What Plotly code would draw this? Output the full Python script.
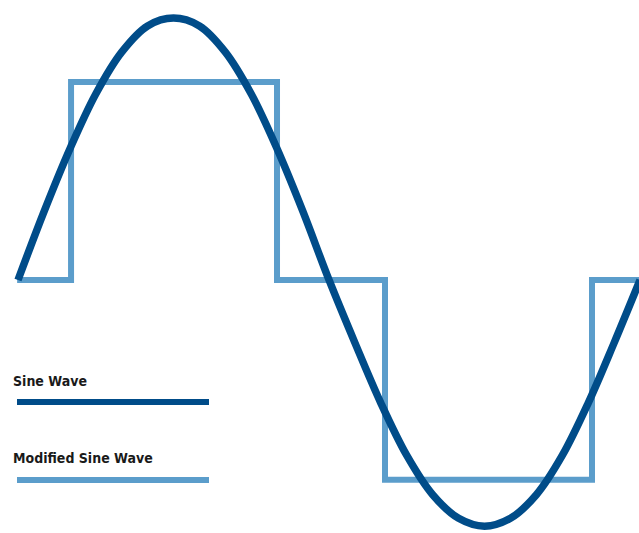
import plotly.graph_objs as go

# Sine wave, read every 15 degrees (trough sits a little shallower than the peak)
sine_x = [0, 15, 30, 45, 60, 75, 90, 105, 120, 135, 150, 165, 180,
          195, 210, 225, 240, 255, 270, 285, 300, 315, 330, 345, 360]
sine_y = [0, 0.26, 0.5, 0.71, 0.87, 0.97, 1, 0.97, 0.87, 0.71, 0.5, 0.26, 0,
          -0.24, -0.47, -0.67, -0.82, -0.91, -0.94, -0.91, -0.82, -0.67, -0.47, -0.24, 0]

# Modified sine wave (stepped)
step_x = [-0.5, 30.7, 30.7, 149.9, 149.9, 212.4, 212.4, 332.2, 332.2, 365]
step_y = [0, 0, 0.756, 0.756, 0, 0, -0.763, -0.763, 0, 0]

legend_names = ['Sine Wave', 'Modified Sine Wave']
dark_blue = '#004c89'
light_blue = '#5b9dcb'

W, H = 639, 533

data = [
    go.Scatter(x=step_x, y=step_y, mode='lines',
               line=dict(color=light_blue, width=6), name=legend_names[1]),
    go.Scatter(x=sine_x, y=sine_y, mode='lines',
               line=dict(color=dark_blue, width=7.5, shape='spline'),
               name=legend_names[0]),
]

layout = go.Layout(
    width=W, height=H,
    margin=dict(l=0, r=0, t=0, b=0),
    paper_bgcolor='white', plot_bgcolor='white',
    showlegend=False,
    xaxis=dict(range=[-10.42, 359.4], visible=False),
    yaxis=dict(range=[-0.966, 1.069], visible=False),
)

fig = go.Figure(data=data, layout=layout)

# Hand-drawn legend in the lower left
for name, color, ty, ly in [(legend_names[0], dark_blue, 381, 402),
                             (legend_names[1], light_blue, 458, 480)]:
    fig.add_annotation(x=11 / W, y=1 - ty / H, xref='paper', yref='paper',
                       text='<b>' + name + '</b>', showarrow=False,
                       xanchor='left', yanchor='middle',
                       font=dict(family='DejaVu Sans Condensed, DejaVu Sans', size=14,
                                 color='#1a1a1a'))
    fig.add_shape(type='line', xref='paper', yref='paper',
                  x0=17 / W, x1=209 / W, y0=1 - ly / H, y1=1 - ly / H,
                  line=dict(color=color, width=6))

fig.write_html("out.html", config={'displayModeBar': False},
               post_script="document.body.style.margin='0';")
